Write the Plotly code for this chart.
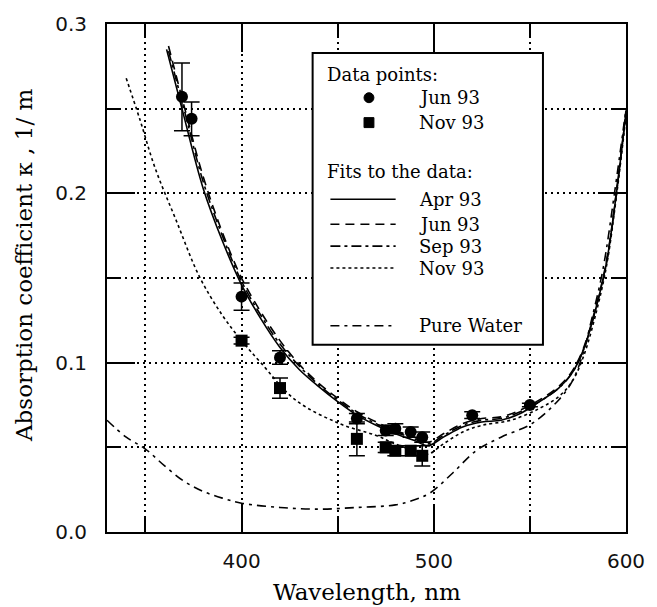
import plotly.graph_objects as go

# ---------------- data ----------------
jun_x = [369, 374, 400, 420, 460, 475, 480, 488, 494, 520, 550]
jun_y = [0.257, 0.244, 0.139, 0.103, 0.067, 0.060, 0.061, 0.059, 0.056, 0.069, 0.075]
jun_err = [0.020, 0.010, 0.008, 0.004, 0.003, 0.003, 0.003, 0.003, 0.003, 0.002, 0.001]

nov_x = [400, 420, 460, 475, 480, 488, 494]
nov_y = [0.113, 0.085, 0.055, 0.050, 0.048, 0.048, 0.045]
nov_err = [0.002, 0.006, 0.010, 0.003, 0.003, 0.003, 0.006]

apr_fit_x = [361, 369, 380, 390, 400, 410, 420, 430, 440, 450, 460, 470, 480, 490, 497,
             505, 515, 525, 535, 545, 555, 565, 572, 578, 585, 590, 595, 600]
apr_fit_y = [0.285, 0.250, 0.203, 0.172, 0.146, 0.126, 0.109, 0.096, 0.086, 0.077, 0.069, 0.063, 0.058,
             0.054, 0.051, 0.056, 0.062, 0.065, 0.066, 0.070, 0.077, 0.085, 0.094, 0.108, 0.135, 0.160, 0.200, 0.248]

jun_fit_x = [362, 370, 380, 390, 400, 410, 420, 430, 440, 450, 460, 470, 480, 490, 497,
             505, 515, 525, 535, 545, 555, 565, 572, 578, 585, 590, 595, 600]
jun_fit_y = [0.287, 0.252, 0.210, 0.177, 0.150, 0.130, 0.113, 0.099, 0.088, 0.079, 0.071, 0.065, 0.060,
             0.056, 0.053, 0.058, 0.064, 0.067, 0.068, 0.072, 0.078, 0.086, 0.095, 0.109, 0.136, 0.161, 0.201, 0.249]

sep_fit_x = [362, 370, 380, 390, 400, 410, 420, 430, 440, 450, 460, 470, 480, 490, 497,
             505, 515, 525, 535, 545, 555, 565, 572, 578, 585, 590, 595, 600]
sep_fit_y = [0.284, 0.250, 0.207, 0.175, 0.148, 0.128, 0.111, 0.098, 0.087, 0.078, 0.070, 0.064, 0.059,
             0.055, 0.052, 0.057, 0.063, 0.066, 0.067, 0.071, 0.077, 0.085, 0.094, 0.108, 0.135, 0.160, 0.200, 0.248]

nov_fit_x = [340, 347, 355, 366, 378, 390, 400, 410, 428, 451, 470, 480, 490, 497,
             505, 515, 525, 540, 555, 565, 572, 578, 585, 590, 595, 600]
nov_fit_y = [0.268, 0.244, 0.215, 0.184, 0.151, 0.128, 0.113, 0.100, 0.078, 0.064, 0.057, 0.052, 0.048, 0.046,
             0.052, 0.059, 0.063, 0.066, 0.073, 0.080, 0.089, 0.104, 0.132, 0.158, 0.198, 0.246]

water_x = [330, 340, 350, 360, 370, 380, 390, 400, 420, 440, 460, 480, 490, 498, 510, 522,
           535, 551, 565, 572, 577, 582, 588, 594, 600]
water_y = [0.066, 0.056, 0.049, 0.039, 0.030, 0.024, 0.020, 0.017, 0.0145, 0.0135, 0.0145, 0.016, 0.019,
           0.023, 0.035, 0.048, 0.056, 0.064, 0.078, 0.089, 0.103, 0.125, 0.155, 0.200, 0.250]

x_range = [330, 600]
y_range = [0.0, 0.3]

# ---------------- figure ----------------
W, H = 657, 607
L, R, T, B = 107, 25, 22, 75

def px_x(p):
    return (p - L) / (W - L - R)

def px_y(p):
    return (H - B - p) / (H - T - B)

fig = go.Figure()

LW = 1.6
fig.add_trace(go.Scatter(x=water_x, y=water_y, mode="lines", line=dict(color="black", width=LW, dash="9px,5px,3px,5px", shape="spline")))
fig.add_trace(go.Scatter(x=nov_fit_x, y=nov_fit_y, mode="lines", line=dict(color="black", width=LW, dash="3px,3px", shape="spline")))
fig.add_trace(go.Scatter(x=sep_fit_x, y=sep_fit_y, mode="lines", line=dict(color="black", width=LW, dash="10px,4px,3px,4px", shape="spline")))
fig.add_trace(go.Scatter(x=jun_fit_x, y=jun_fit_y, mode="lines", line=dict(color="black", width=LW, dash="9px,6px", shape="spline")))
fig.add_trace(go.Scatter(x=apr_fit_x, y=apr_fit_y, mode="lines", line=dict(color="black", width=LW, shape="spline")))

fig.add_trace(go.Scatter(x=jun_x, y=jun_y, mode="markers",
                         marker=dict(symbol="circle", size=12, color="black"),
                         error_y=dict(type="data", array=jun_err, color="black", thickness=1.5, width=8)))
fig.add_trace(go.Scatter(x=nov_x, y=nov_y, mode="markers",
                         marker=dict(symbol="square", size=12, color="black"),
                         error_y=dict(type="data", array=nov_err, color="black", thickness=1.5, width=8)))

tickfont = dict(family="DejaVu Sans", size=20, color="#111")
common = dict(showline=True, linecolor="black", linewidth=2, mirror="allticks",
              ticks="inside", ticklen=28, tickwidth=2, tickcolor="black",
              showgrid=True, gridcolor="black", gridwidth=1.6, griddash="2px,4px",
              zeroline=False, tickfont=tickfont)

fig.update_xaxes(range=x_range, tick0=0, dtick=100, ticklabelstandoff=10,
                 minor=dict(dtick=50, ticklen=14, tickwidth=2, tickcolor="black", ticks="inside",
                            showgrid=True, gridcolor="black", gridwidth=1.6, griddash="2px,4px"),
                 **common)
fig.update_yaxes(range=y_range, tick0=0, dtick=0.1, tickformat=".1f", ticklabelstandoff=14,
                 minor=dict(dtick=0.05, ticklen=14, tickwidth=2, tickcolor="black", ticks="inside",
                            showgrid=True, gridcolor="black", gridwidth=1.6, griddash="2px,4px"),
                 **common)

shapes = []
annotations = []

# legend box
shapes.append(dict(type="rect", xref="paper", yref="paper",
                   x0=px_x(315), x1=px_x(548), y0=px_y(344), y1=px_y(51),
                   fillcolor="white", line=dict(color="black", width=2), layer="above"))

lfont = dict(family="DejaVu Serif", size=18, color="black")

def ltext(txt, xp, yp):
    annotations.append(dict(text=txt, xref="paper", yref="paper", x=px_x(xp), y=px_y(yp),
                            xanchor="left", yanchor="middle", showarrow=False, font=lfont))

ltext("Data points:", 328, 73)
ltext("Jun 93", 421, 96)
ltext("Nov 93", 421, 121)
ltext("Fits to the data:", 328, 170)
ltext("Apr 93", 421, 198)
ltext("Jun 93", 421, 223)
ltext("Sep 93", 421, 245)
ltext("Nov 93", 421, 267)
ltext("Pure Water", 421, 325)

# legend symbols
shapes.append(dict(type="circle", xref="paper", yref="paper",
                   x0=px_x(367), x1=px_x(377), y0=px_y(101), y1=px_y(91),
                   fillcolor="black", line=dict(color="black", width=1), layer="above"))
shapes.append(dict(type="rect", xref="paper", yref="paper",
                   x0=px_x(367), x1=px_x(377), y0=px_y(126), y1=px_y(116),
                   fillcolor="black", line=dict(color="black", width=1), layer="above"))

for yy, dash in [(198, "solid"), (223, "9px,6px"), (245, "10px,4px,3px,4px"),
                 (267, "3px,3px"), (325, "9px,5px,3px,5px")]:
    shapes.append(dict(type="line", xref="paper", yref="paper",
                       x0=px_x(333), x1=px_x(399), y0=px_y(yy), y1=px_y(yy),
                       line=dict(color="black", width=LW, dash=dash), layer="above"))

# axis titles
annotations.append(dict(text="Absorption coefficient κ , 1/ m", xref="paper", yref="paper",
                        x=px_x(23), y=px_y(264), xanchor="center", yanchor="middle",
                        textangle=-90, showarrow=False,
                        font=dict(family="DejaVu Serif", size=23, color="black")))
annotations.append(dict(text="Wavelength, nm", xref="paper", yref="paper",
                        x=px_x(370), y=px_y(592), xanchor="center", yanchor="middle",
                        showarrow=False,
                        font=dict(family="DejaVu Serif", size=23, color="black")))

fig.update_layout(width=W, height=H, margin=dict(l=L, r=R, t=T, b=B),
                  paper_bgcolor="white", plot_bgcolor="white", showlegend=False,
                  shapes=shapes, annotations=annotations)

fig.write_html("out.html")
